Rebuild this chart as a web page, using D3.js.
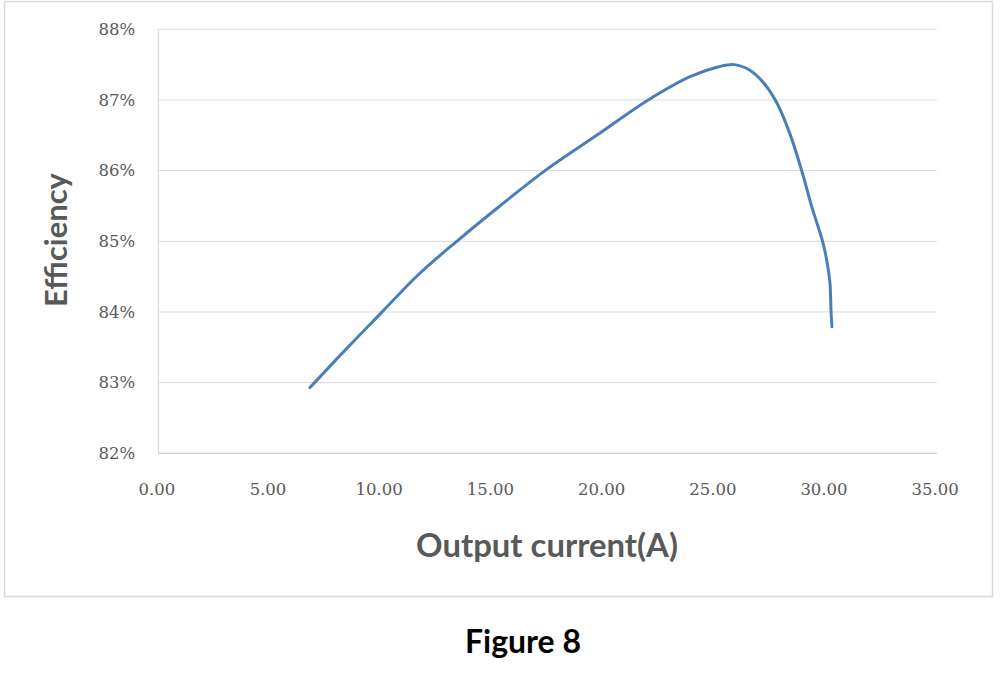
<!DOCTYPE html>
<html>
<head>
<meta charset="utf-8">
<script src="https://cdn.jsdelivr.net/npm/d3@7"></script>
<style>
  html, body { margin: 0; padding: 0; background: #fff; }
  svg { display: block; }
</style>
</head>
<body>
<svg id="chart" width="1001" height="675"></svg>
<script>
// ---- data ----
const currentA = [6.82, 8.4, 10.0, 11.7, 13.42, 15.4, 17.39, 19.71, 22.03, 23.91, 25.2, 25.9, 26.6, 27.25, 27.81, 28.4, 28.93, 29.38, 29.87, 30.08, 30.2, 30.25, 30.29];
const efficiency = [82.93, 83.46, 83.98, 84.53, 85.0, 85.51, 86.0, 86.5, 87.0, 87.33, 87.47, 87.5, 87.42, 87.23, 86.96, 86.52, 86.0, 85.49, 85.0, 84.69, 84.41, 84.0, 83.79];
const xTicks = [0, 5, 10, 15, 20, 25, 30, 35];
const yTicks = [82, 83, 84, 85, 86, 87, 88];
const xTitle = "Output current(A)";
const yTitle = "Efficiency";
const caption = "Figure 8";

// ---- layout ----
const svg = d3.select("#chart");
const plot = { left: 158.3, right: 936.7, top: 29.3, bottom: 453.3 };

const x = d3.scaleLinear().domain([0, 35]).range([plot.left, plot.right]);
const y = d3.scaleLinear().domain([82, 88]).range([plot.bottom, plot.top]);

// outer chart border
svg.append("rect")
  .attr("x", 4.5).attr("y", 1.5)
  .attr("width", 988).attr("height", 595)
  .attr("fill", "#fff")
  .attr("stroke", "#d9d9d9").attr("stroke-width", 1.5);

// gridlines
svg.append("g").selectAll("line").data(yTicks).join("line")
  .attr("x1", plot.left).attr("x2", plot.right)
  .attr("y1", d => y(d)).attr("y2", d => y(d))
  .attr("stroke", "#d9d9d9").attr("stroke-width", 1);

// left axis line
svg.append("line")
  .attr("x1", plot.left).attr("x2", plot.left)
  .attr("y1", plot.top).attr("y2", plot.bottom)
  .attr("stroke", "#d0d0d0").attr("stroke-width", 1);
// bottom axis line
svg.append("line")
  .attr("x1", plot.left).attr("x2", plot.right)
  .attr("y1", plot.bottom).attr("y2", plot.bottom)
  .attr("stroke", "#c8c8c8").attr("stroke-width", 1);

// y tick labels
const yAxis = d3.axisLeft(y).tickValues(yTicks).tickSize(0).tickPadding(23)
  .tickFormat(d => d + "%");
const gy = svg.append("g").attr("transform", `translate(${plot.left},0)`).call(yAxis);
gy.select(".domain").remove();
gy.selectAll("text")
  .attr("font-family", "'DejaVu Serif', serif")
  .attr("font-size", 16.5)
  .attr("fill", "#595959");

// x tick labels
const xAxis = d3.axisBottom(x).tickValues(xTicks).tickSize(0).tickPadding(30)
  .tickFormat(d3.format(".2f"));
const gx = svg.append("g").attr("transform", `translate(-2,${plot.bottom})`).call(xAxis);
gx.select(".domain").remove();
gx.selectAll("text")
  .attr("font-family", "'DejaVu Serif', serif")
  .attr("font-size", 16.5)
  .attr("fill", "#595959");

// fit text to width helper
function fitText(sel, targetWidth) {
  const w = sel.node().getComputedTextLength();
  const fs = parseFloat(sel.attr("font-size"));
  sel.attr("font-size", fs * targetWidth / w);
}

// axis titles
const xt = svg.append("text")
  .attr("x", 547).attr("y", 557)
  .attr("text-anchor", "middle")
  .attr("font-family", "Lato, 'Open Sans', sans-serif")
  .attr("font-weight", "bold")
  .attr("font-size", 28)
  .attr("fill", "#595959")
  .text(xTitle);
fitText(xt, 262);

const yt = svg.append("text")
  .attr("transform", "translate(67,240) rotate(-90)")
  .attr("text-anchor", "middle")
  .attr("font-family", "Lato, 'Open Sans', sans-serif")
  .attr("font-weight", "bold")
  .attr("font-size", 28)
  .attr("fill", "#595959")
  .text(yTitle);
fitText(yt, 134);

// caption
const cap = svg.append("text")
  .attr("x", 523).attr("y", 653)
  .attr("text-anchor", "middle")
  .attr("font-family", "Lato, 'Open Sans', sans-serif")
  .attr("font-weight", "bold")
  .attr("font-size", 30)
  .attr("fill", "#000")
  .text(caption);
fitText(cap, 116);

// data line
const pts = currentA.map((c, i) => [c, efficiency[i]]);
const line = d3.line()
  .x(d => x(d[0])).y(d => y(d[1]))
  .curve(d3.curveCatmullRom.alpha(0.5));
svg.append("path")
  .datum(pts)
  .attr("d", line)
  .attr("fill", "none")
  .attr("stroke", "#4a7ebb")
  .attr("stroke-width", 3)
  .attr("stroke-linecap", "round")
  .attr("stroke-linejoin", "round");
</script>
</body>
</html>
